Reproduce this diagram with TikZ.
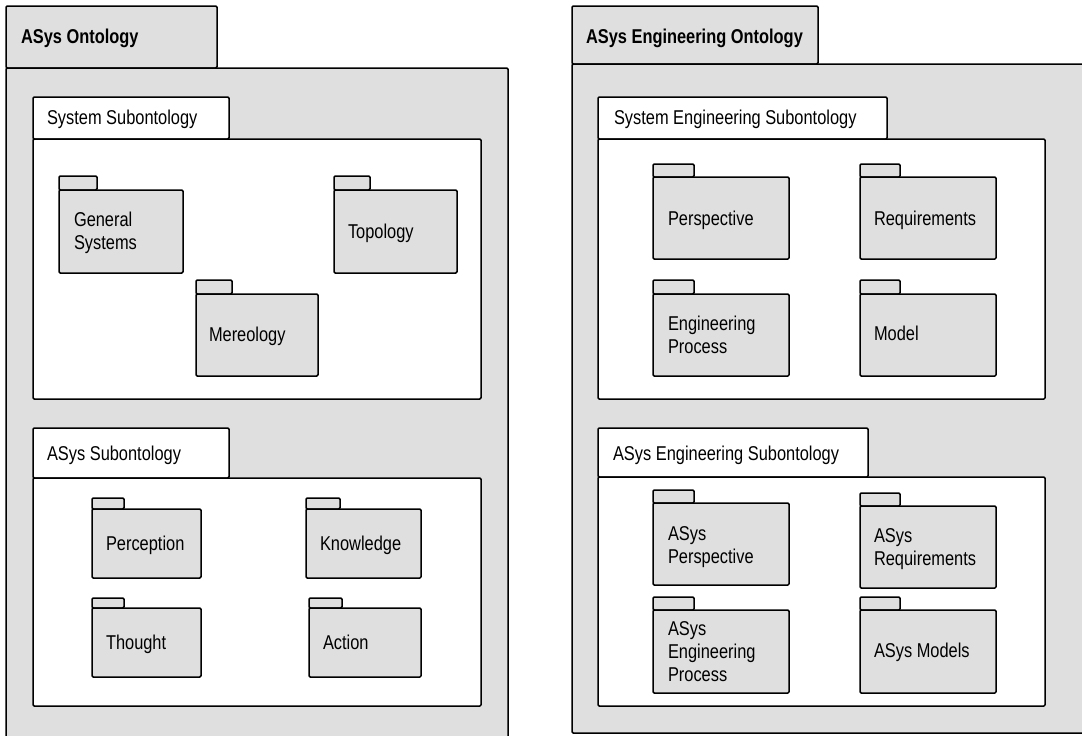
\documentclass[tikz,border=0pt]{standalone}
\usepackage{fontspec}
\setmainfont{Liberation Sans}[FakeStretch=0.82]
\definecolor{pkggray}{RGB}{223,223,223}
\tikzset{
  pkgline/.style={draw=black, line width=1.5pt, rounded corners=1.2pt},
  graypkg/.style={pkgline, fill=pkggray},
  whitepkg/.style={pkgline, fill=white},
  lbl/.style={anchor=base west, inner sep=0pt, outer sep=0pt, align=left,
    font=\fontsize{20}{23}\selectfont},
  title/.style={lbl, font=\fontsize{20}{23}\selectfont\bfseries},
}
% #1 style, #2 name, #3 x1, #4 tab top, #5 tab right, #6 body top, #7 x2, #8 bottom
\newcommand\pkgshape[8]{%
  \draw[#1] (#3,#4) rectangle (#5,#6);
  \draw[#1] (#3,#6) rectangle (#7,#8);
  \coordinate (#2) at (#3,#6);
}
\begin{document}
\begin{tikzpicture}[x=1pt,y=-1pt]
\useasboundingbox[fill=white] (0,0) rectangle (1082,736);
% ---------- left: ASys Ontology ----------
\pkgshape{graypkg}{asysont}{6}{6}{217}{68}{508}{760}
\node[title] (t-asysont) at (21,43) {ASys Ontology};
\pkgshape{whitepkg}{syssub}{33}{97}{229}{139}{481}{399}
\node[lbl] (t-syssub) at (47,124) {System Subontology};
\pkgshape{graypkg}{gensys}{59}{176}{97}{190}{183}{273}
\node[lbl] (t-gensys) at (74,249) {General\\Systems};
\pkgshape{graypkg}{topo}{334}{176}{370}{190}{457}{273}
\node[lbl] (t-topo) at (348,238) {Topology};
\pkgshape{graypkg}{mereo}{196}{280}{232}{294}{318}{376}
\node[lbl] (t-mereo) at (209,341) {Mereology};
\pkgshape{whitepkg}{asyssub}{33}{428}{229}{478}{481}{706}
\node[lbl] (t-asyssub) at (47,460) {ASys Subontology};
\pkgshape{graypkg}{percep}{92}{498}{124}{509}{201}{578}
\node[lbl] (t-percep) at (106,550) {Perception};
\pkgshape{graypkg}{know}{306}{498}{340}{509}{421}{578}
\node[lbl] (t-know) at (320,550) {Knowledge};
\pkgshape{graypkg}{thought}{92}{598}{124}{608}{201}{677}
\node[lbl] (t-thought) at (106,649) {Thought};
\pkgshape{graypkg}{action}{309}{598}{342}{608}{421}{677}
\node[lbl] (t-action) at (323,649) {Action};
% ---------- right: ASys Engineering Ontology ----------
\pkgshape{graypkg}{engont}{572}{6}{818}{64}{1100}{733}
\node[title] (t-engont) at (586,43) {ASys Engineering Ontology};
\pkgshape{whitepkg}{sysengsub}{598}{97}{887}{139}{1045}{399}
\node[lbl] (t-sysengsub) at (614,124) {System Engineering Subontology};
\pkgshape{graypkg}{persp}{653}{164}{694}{177}{789}{259}
\node[lbl] (t-persp) at (668,225) {Perspective};
\pkgshape{graypkg}{req}{860}{164}{900}{177}{996}{259}
\node[lbl] (t-req) at (874,225) {Requirements};
\pkgshape{graypkg}{engproc}{653}{280}{694}{294}{789}{376}
\node[lbl] (t-engproc) at (668,353) {Engineering\\Process};
\pkgshape{graypkg}{model}{860}{280}{900}{294}{996}{376}
\node[lbl] (t-model) at (874,340) {Model};
\pkgshape{whitepkg}{asysengsub}{598}{428}{868}{477}{1045}{706}
\node[lbl] (t-asysengsub) at (613,460) {ASys Engineering Subontology};
\pkgshape{graypkg}{apersp}{653}{490}{694}{503}{789}{585}
\node[lbl] (t-apersp) at (668,563) {ASys\\Perspective};
\pkgshape{graypkg}{areq}{860}{493}{900}{506}{996}{588}
\node[lbl] (t-areq) at (874,565) {ASys\\Requirements};
\pkgshape{graypkg}{aengproc}{653}{597}{694}{610}{789}{693}
\node[lbl] (t-aengproc) at (668,681) {ASys\\Engineering\\Process};
\pkgshape{graypkg}{amodels}{860}{597}{900}{610}{996}{693}
\node[lbl] (t-amodels) at (874,657) {ASys Models};
\end{tikzpicture}
\end{document}
